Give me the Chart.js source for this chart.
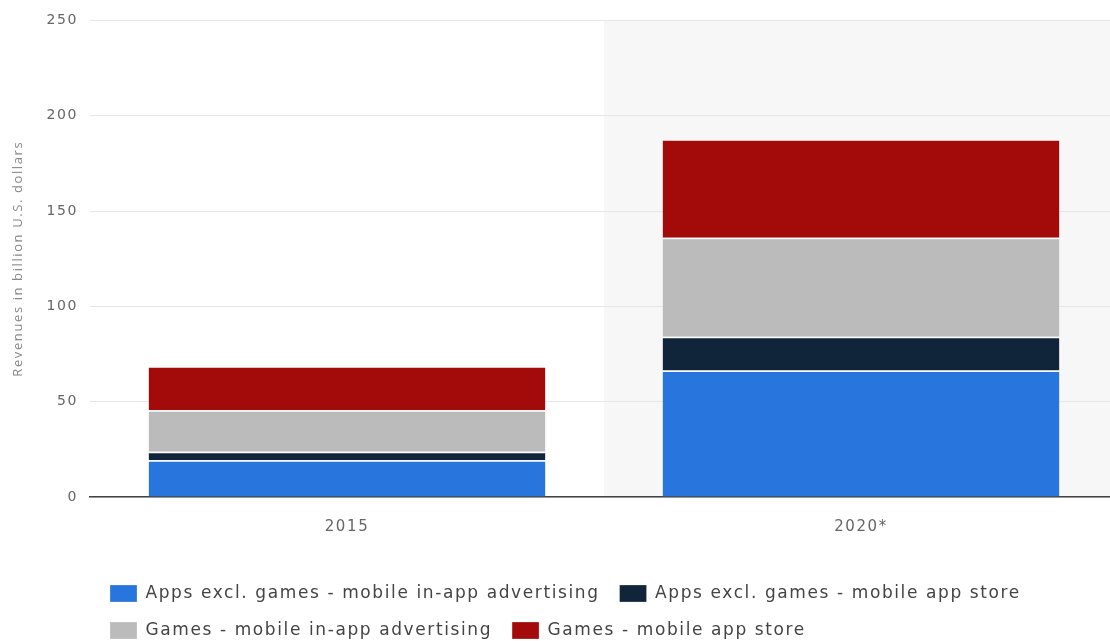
<!DOCTYPE html>
<html>
<head>
<meta charset="utf-8">
<script src="https://cdn.jsdelivr.net/npm/chart.js@4/dist/chart.umd.min.js"></script>
<style>
  html, body { margin: 0; padding: 0; background: #fff; overflow: hidden; }
  #wrap { width: 1118px; height: 641px; }
</style>
</head>
<body>
<div id="wrap"><canvas id="mycanvas"></canvas></div>
<script>
var years = ["2015", "2020*"];
var appsAdvertising = [19.3, 66.4];
var appsStore = [4.4, 17.7];
var gamesAdvertising = [21.8, 51.9];
var gamesStore = [23.1, 51.7];
var yTicks = [0, 50, 100, 150, 200, 250];

// grey background behind the forecast year
var forecastShade = {
  id: "forecastShade",
  beforeLayout: function(chart) {
    chart.ctx.letterSpacing = "1.6px";
  },
  beforeDraw: function(chart) {
    var area = chart.chartArea;
    var x = chart.scales.x.getPixelForValue(0.5);
    var ctx = chart.ctx;
    ctx.letterSpacing = "1.6px";
    ctx.save();
    ctx.fillStyle = "#f7f7f7";
    ctx.fillRect(x, area.top, area.right - x, area.bottom - area.top);
    ctx.restore();
  }
};

var seg = { top: 1.5, bottom: 0, left: 0, right: 0 };
var font = "'DejaVu Sans', Verdana, sans-serif";

var chartdata = {
  labels: years,
  datasets: [
    { label: "Apps excl. games - mobile in-app advertising", data: appsAdvertising,
      backgroundColor: "#2876dd", borderColor: "rgba(255,255,255,0.7)", borderWidth: seg, borderSkipped: false },
    { label: "Apps excl. games - mobile app store", data: appsStore,
      backgroundColor: "#10243a", borderColor: "rgba(255,255,255,0.7)", borderWidth: seg, borderSkipped: false },
    { label: "Games - mobile in-app advertising", data: gamesAdvertising,
      backgroundColor: "#bbbbbb", borderColor: "rgba(255,255,255,0.7)", borderWidth: seg, borderSkipped: false },
    { label: "Games - mobile app store", data: gamesStore,
      backgroundColor: "#a30b0b", borderColor: "rgba(255,255,255,0.7)", borderWidth: seg, borderSkipped: false }
  ]
};

var ctx = document.getElementById("mycanvas");

new Chart(ctx, {
  type: "bar",
  data: chartdata,
  plugins: [forecastShade],
  options: {
    responsive: true,
    maintainAspectRatio: false,
    animation: { duration: 0 },
    layout: { padding: { top: 19, right: 0, bottom: -8, left: 0 } },
    datasets: { bar: { categoryPercentage: 1, barPercentage: 0.772 } },
    scales: {
      x: {
        stacked: true,
        grid: { display: false },
        border: { color: "#444", width: 1.5 },
        ticks: { color: "#666", padding: 13, font: { family: font, size: 15 } },
        afterFit: function(scale) { scale.height = 68; }
      },
      y: {
        stacked: true,
        min: 0,
        max: 250,
        afterBuildTicks: function(scale) {
          scale.ticks = yTicks.map(function(v) { return { value: v }; });
        },
        grid: { color: "#e6e6e6", drawTicks: false },
        border: { display: false },
        ticks: { color: "#666", padding: 12, font: { family: font, size: 14 } },
        title: {
          display: true,
          text: "Revenues in billion U.S. dollars",
          color: "#888",
          padding: { top: 10, bottom: 0 },
          font: { family: "Open Sans", size: 13 }
        },
        afterFit: function(scale) { scale.width = 90; }
      }
    },
    plugins: {
      legend: {
        position: "bottom",
        align: "start",
        fullSize: false,
        labels: {
          boxWidth: 27,
          boxHeight: 17,
          padding: 20,
          color: "#444",
          font: { family: font, size: 17 }
        }
      },
      tooltip: { enabled: false }
    }
  }
});
</script>
</body>
</html>
